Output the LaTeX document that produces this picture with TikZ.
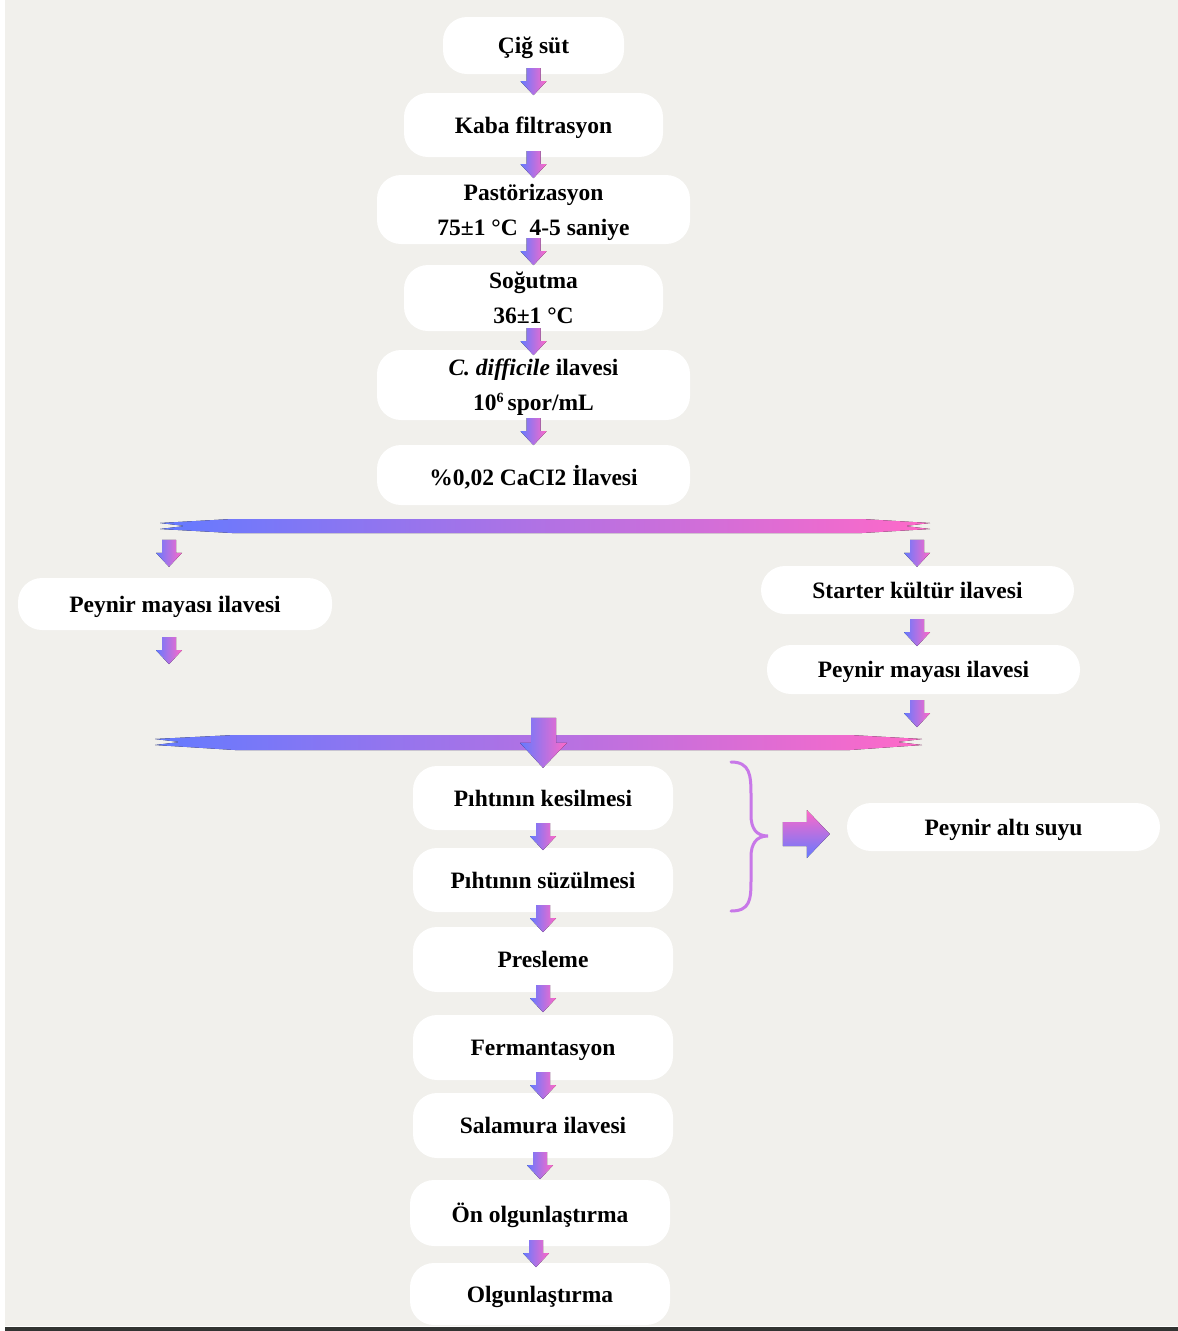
\documentclass[tikz,border=0pt]{standalone}
\usepackage{fontspec}
\setmainfont{Liberation Serif}
\usetikzlibrary{calc}
\definecolor{bg}{RGB}{241,240,236}
\definecolor{cblue}{RGB}{100,122,255}
\definecolor{cpink}{RGB}{255,105,200}
\definecolor{cbrace}{RGB}{200,120,232}
\definecolor{darkline}{RGB}{50,52,50}
\begin{document}
\begin{tikzpicture}[x=1pt,y=-1pt,
  box/.style={fill=white, rounded corners=24pt, inner sep=0pt, align=center,
    text depth=0pt, font=\fontsize{23.5}{35}\selectfont\bfseries},
  darrow/.pic={\fill[left color=cblue,right color=cpink]
    (-7,0) -- (7,0) -- (7,13) -- (13,13) -- (0,27) -- (-13,13) -- (-7,13) -- cycle;},
  bigarrow/.pic={\fill[left color=cblue,right color=cpink]
    (-12,0) -- (13,0) -- (13,25) -- (24,25) -- (0,50) -- (-23,25) -- (-12,25) -- cycle;},
  rarrow/.pic={\fill[top color=cpink,bottom color=cblue]
    (0,-12) -- (24,-12) -- (24,-24) -- (47,0) -- (24,24) -- (24,12) -- (0,12) -- cycle;},
  gbar/.style={left color=cblue,right color=cpink}
]
\useasboundingbox (0,0) rectangle (1178,1331);
\fill[white] (0,0) rectangle (1178,1331);
\fill[bg] (5,0) rectangle (1178,1326);
\fill[darkline] (5,1327) rectangle (1178,1331);

% main column
\node[box, minimum width=181pt, minimum height=57pt] (cig) at (533.5,45.5) {Çiğ süt};
\node[box, minimum width=259pt, minimum height=64pt] (kaba) at (533.5,125) {Kaba filtrasyon};
\node[box, minimum width=313pt, minimum height=69pt] (past) at (533.5,209.5) {Pastörizasyon\\75±1 °C\ \ 4-5 saniye};
\node[box, minimum width=259pt, minimum height=66pt] (sog) at (533.5,298) {Soğutma\\36±1 °C};
\node[box, minimum width=313pt, minimum height=70pt] (cdif) at (533.5,385) {\textit{C. difficile} ilavesi\\10\raisebox{0.35em}{\fontsize{14}{14}\selectfont 6}\,spor/mL};
\node[box, minimum width=313pt, minimum height=60pt] (cacl) at (533.5,475) {\%0,02 CaCI2 İlavesi};

% branches
\node[box, minimum width=314pt, minimum height=52pt] (pmL) at (175,604) {Peynir mayası ilavesi};
\node[box, minimum width=313pt, minimum height=48pt] (starter) at (917.5,590) {Starter kültür ilavesi};
\node[box, minimum width=313pt, minimum height=49pt] (pmR) at (923.5,669.5) {Peynir mayası ilavesi};

% lower column
\node[box, minimum width=260pt, minimum height=64pt] (kes) at (543,798) {Pıhtının kesilmesi};
\node[box, minimum width=260pt, minimum height=64pt] (suz) at (543,880) {Pıhtının süzülmesi};
\node[box, minimum width=260pt, minimum height=65pt] (pres) at (543,959.5) {Presleme};
\node[box, minimum width=260pt, minimum height=65pt] (ferm) at (543,1047.5) {Fermantasyon};
\node[box, minimum width=260pt, minimum height=65pt] (sal) at (543,1125.5) {Salamura ilavesi};
\node[box, minimum width=260pt, minimum height=66pt] (on) at (540,1213) {Ön olgunlaştırma};
\node[box, minimum width=260pt, minimum height=62pt] (olg) at (540,1294) {Olgunlaştırma};

\node[box, minimum width=313pt, minimum height=48pt] (alti) at (1003.5,827) {Peynir altı suyu};

% gradient bars
\coordinate (t1L) at (160,526);
\coordinate (t1R) at (930,526);
\fill[gbar] (t1L) ++(0,-3) -- (232,519) -- (862,519) -- ($(t1R)+(0,-3)$) -- ($(t1R)+(-25,0)$) -- ($(t1R)+(0,3)$)
  -- (862,533) -- (232,533) -- ($(t1L)+(0,3)$) -- ($(t1L)+(25,0)$) -- cycle;
\coordinate (t2L) at (155,742);
\coordinate (t2R) at (922,742);
\fill[gbar] (t2L) ++(0,-3) -- (235,735) -- (850,735) -- ($(t2R)+(0,-3)$) -- ($(t2R)+(-25,0)$) -- ($(t2R)+(0,3)$)
  -- (850,750) -- (235,750) -- ($(t2L)+(0,3)$) -- ($(t2L)+(25,0)$) -- cycle;

% small arrows
\pic at ($(cig.south)+(0,-6)$) {darrow};
\pic at ($(kaba.south)+(0,-6)$) {darrow};
\pic at ($(past.south)+(0,-6)$) {darrow};
\pic at ($(sog.south)+(0,-3)$) {darrow};
\pic at ($(cdif.south)+(0,-2)$) {darrow};
\pic at ($(pmL.north)+(-6,-38)$) {darrow};
\pic at ($(starter.north)+(-0.5,-26)$) {darrow};
\pic at ($(pmL.south)+(-6,7)$) {darrow};
\pic at ($(starter.south)+(-0.5,5)$) {darrow};
\pic at ($(pmR.south)+(-6.5,6)$) {darrow};
\pic at ($(kes.north)+(0,-48)$) {bigarrow};
\pic at ($(kes.south)+(0,-7)$) {darrow};
\pic at ($(suz.south)+(0,-7)$) {darrow};
\pic at ($(pres.south)+(0,-7)$) {darrow};
\pic at ($(ferm.south)+(0,-8)$) {darrow};
\pic at ($(sal.south)+(-3,-6)$) {darrow};
\pic at ($(on.south)+(-4,-6)$) {darrow};

% brace and whey arrow
\coordinate (bt) at (731,762);
\coordinate (bb) at (731,911);
\draw[cbrace, line width=3pt, line cap=round]
  (bt) .. controls (750,762) and (751,775) .. (751,795) -- (751,815)
  .. controls (751,828) and (756,836) .. (768,836)
  .. controls (756,836) and (751,844) .. (751,857) -- (751,880)
  .. controls (751,900) and (750,911) .. (bb);
\pic at ($(alti.west)+(-64,7)$) {rarrow};
\end{tikzpicture}
\end{document}
